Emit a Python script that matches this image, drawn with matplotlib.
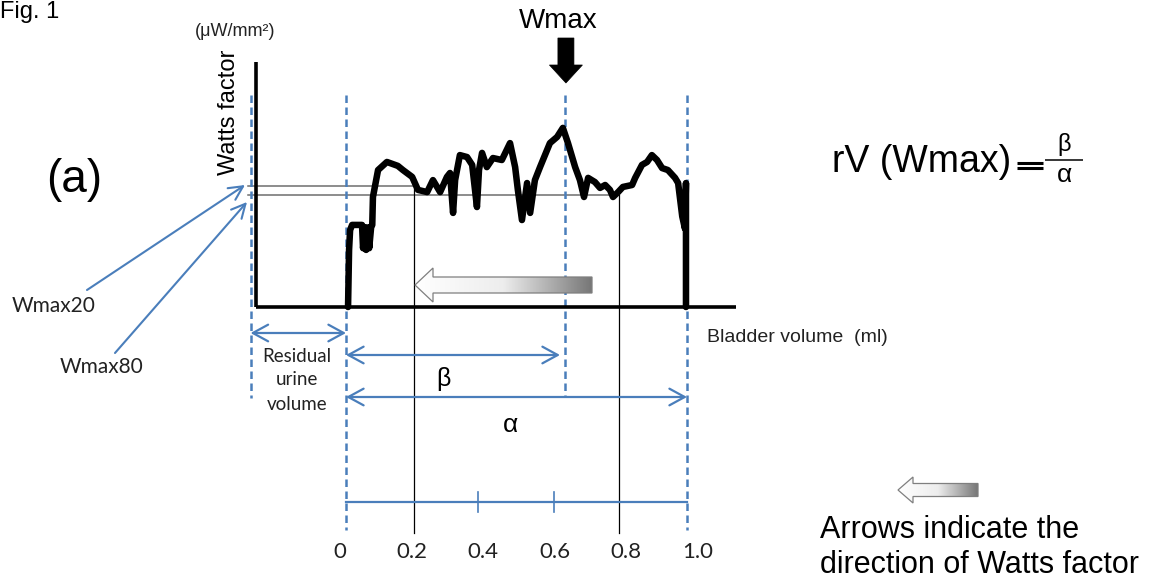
import numpy as np
import matplotlib
matplotlib.use("Agg")
import matplotlib.pyplot as plt
from matplotlib.patches import FancyArrowPatch, Polygon
from matplotlib.colors import LinearSegmentedColormap

# ---------------- data ----------------
# Watts factor curve (voided volume fraction vs Watts factor, arbitrary units)
volume = [0.006, 0.009, 0.012, 0.018, 0.047, 0.050, 0.056, 0.059, 0.065, 0.068, 0.074, 0.077,
          0.079, 0.094, 0.120, 0.152, 0.167, 0.194, 0.211, 0.238, 0.255, 0.276, 0.296, 0.305,
          0.314, 0.320, 0.334, 0.355, 0.370, 0.384, 0.390, 0.399, 0.413, 0.431, 0.457, 0.481,
          0.496, 0.504, 0.516, 0.531, 0.540, 0.554, 0.569, 0.598, 0.619, 0.636, 0.651, 0.672,
          0.686, 0.698, 0.710, 0.730, 0.745, 0.760, 0.774, 0.783, 0.798, 0.812, 0.839, 0.848,
          0.868, 0.883, 0.897, 0.912, 0.927, 0.944, 0.965, 0.974, 0.986, 0.994, 0.997, 0.997]
watts = [0.00, 2.33, 3.14, 3.35, 3.35, 2.40, 3.25, 2.33, 3.25, 2.40, 3.30, 3.35,
         4.49, 5.59, 5.92, 5.76, 5.59, 5.31, 4.78, 4.69, 5.18, 4.69, 5.31, 5.47,
         3.84, 5.18, 6.20, 6.12, 5.80, 4.08, 5.59, 6.29, 5.71, 6.08, 6.00, 6.69,
         5.71, 4.78, 3.55, 5.06, 3.84, 5.18, 5.71, 6.69, 6.94, 7.31, 6.69, 5.71,
         5.18, 4.49, 5.27, 5.10, 4.86, 4.98, 4.78, 4.49, 4.69, 4.90, 4.98, 5.27,
         5.80, 5.92, 6.20, 6.00, 5.67, 5.59, 5.27, 5.06, 3.70, 3.20, 5.06, 0.00]
wmax20 = 4.94          # Watts factor at 20 % of voided volume
wmax80 = 4.57          # Watts factor at 80 % of voided volume
wmax_volume = 0.642    # volume fraction at Wmax
residual = 0.28        # residual urine (in voided-volume units)
vol_ticks = [0, 0.2, 0.4, 0.6, 0.8, 1.0]
vol_tick_labels = ["0", "0.2", "0.4", "0.6", "0.8", "1.0"]
scale_ticks = [0.387, 0.61]
y_top = 10.0

# ---------------- layout ----------------
W, H = 1155, 578
X0, XS = 346.0, 341.0   # pixel of volume 0, pixels per volume unit
Y0, YS = 307.0, 24.5    # pixel of Watts 0, pixels per Watts unit

def vx(px):
    return (px - X0) / XS

def wy(py):
    return (Y0 - py) / YS

def P(px, py):
    return (vx(px), wy(py))

def px_of(v):
    return X0 + XS * v

BLUE = "#4A7EBB"
ARIAL = "Liberation Sans"
CALIBRI = "Lato"

fig = plt.figure(figsize=(W / 100, H / 100), dpi=100)
ax = fig.add_axes([0, 0, 1, 1])
XL = (vx(0), vx(W))
YL = (wy(H), wy(0))
ax.set_xlim(*XL)
ax.set_ylim(*YL)
ax.axis("off")

# axes (thick black)
ax.plot([vx(256), vx(256)], [0, y_top], color="black", lw=2.6, solid_capstyle="butt", zorder=6)
ax.plot([vx(256), vx(736)], [0, 0], color="black", lw=2.6, solid_capstyle="butt", zorder=6)

# gray reference lines for Wmax20 / Wmax80
ax.plot([vx(248), 0.2], [wmax20, wmax20], color="#6e6e6e", lw=1.1, zorder=3)
ax.plot([vx(248), 0.8], [wmax80, wmax80], color="#6e6e6e", lw=1.1, zorder=3)
# vertical thin black lines at 0.2 and 0.8
ax.plot([0.2, 0.2], [wmax20, wy(533)], color="black", lw=0.9, zorder=3)
ax.plot([0.8, 0.8], [wmax80, wy(533)], color="black", lw=0.9, zorder=3)

# blue dashed verticals
dash = dict(color=BLUE, lw=1.8, linestyle=(0, (3.0, 1.8)), zorder=4)
ax.plot([-residual, -residual], [wy(95), wy(398)], **dash)
ax.plot([0, 0], [wy(95), wy(530)], **dash)
ax.plot([wmax_volume, wmax_volume], [wy(95), wy(397)], **dash)
ax.plot([1.0, 1.0], [wy(95), wy(530)], **dash)

# the Watts factor curve
ax.plot(volume, watts, color="black", lw=4.7, solid_joinstyle="round",
        solid_capstyle="round", zorder=7)

# blue double arrows
def darrow(x1, x2, y, style="<->"):
    a = FancyArrowPatch((x1, y), (x2, y), arrowstyle=f"{style},head_length=11,head_width=6",
                        color=BLUE, lw=1.6, shrinkA=0, shrinkB=0, mutation_scale=1,
                        transform=ax.transData, zorder=5)
    ax.add_patch(a)

darrow(-residual, 0, wy(333))
darrow(0, vx(560), wy(355))
darrow(0, 1.0, wy(397))

# blue scale bar
ax.plot([0, 1.0], [wy(502), wy(502)], color=BLUE, lw=1.6, zorder=5)
for t in scale_ticks:
    ax.plot([t, t], [wy(492), wy(512)], color=BLUE, lw=1.2, zorder=5)

# blue pointers to Wmax20 / Wmax80
for (p0, p1) in [((87, 290), (245, 185)), ((115, 353), (247, 202))]:
    a = FancyArrowPatch(P(*p0), P(*p1), arrowstyle="->,head_length=10,head_width=5",
                        color=BLUE, lw=1.5, shrinkA=0, shrinkB=0, mutation_scale=1,
                        transform=ax.transData, zorder=5)
    ax.add_patch(a)

# Wmax block arrow
cx = px_of(wmax_volume) + 1
shaft, head = 8, 16.5
pts = [(cx - shaft, 38), (cx + shaft, 38), (cx + shaft, 65), (cx + head, 65), (cx, 83),
       (cx - head, 65), (cx - shaft, 65)]
ax.add_patch(Polygon([P(*p) for p in pts], closed=True, facecolor="black",
                     edgecolor="black", lw=0.5, zorder=6))

# gradient arrows
cmap = LinearSegmentedColormap.from_list("g", ["#ffffff", "#ededed", "#777777"])

def grad_arrow(tip, y, hb, end, bh, hh):
    pts = [(tip, y), (hb, y - hh), (hb, y - bh), (end, y - bh), (end, y + bh),
           (hb, y + bh), (hb, y + hh)]
    poly = Polygon([P(*p) for p in pts], closed=True, facecolor="none",
                   edgecolor="#7f7f7f", lw=0.9, zorder=6)
    ax.add_patch(poly)
    grad = np.linspace(0, 1, 256).reshape(1, -1)
    im = ax.imshow(grad, cmap=cmap, extent=[vx(tip), vx(end), wy(y + hh), wy(y - hh)],
                   aspect="auto", interpolation="bilinear", zorder=5)
    im.set_clip_path(poly)

grad_arrow(415, 285, 433, 592, 8, 17)
grad_arrow(898, 490, 913, 978, 6.5, 13)

ax.set_xlim(*XL)
ax.set_ylim(*YL)

# ---------------- texts ----------------
def T(px, py, s, **kw):
    ax.text(vx(px), wy(py), s, **kw)

T(0, 18, "Fig. 1", fontsize=17, family=ARIAL, ha="left", va="baseline")
T(235, 36, "(μW/mm²)", fontsize=13, family=ARIAL, ha="center", va="baseline", color="#222222")
T(229, 112, "Watts factor", fontsize=17, family=ARIAL, rotation=90, ha="center", va="center")
T(74, 180, "(a)", fontsize=33, family=ARIAL, ha="center", va="center")
T(558, 28, "Wmax", fontsize=20, family=ARIAL, ha="center", va="baseline")
T(12, 312, "Wmax20", fontsize=15, family=CALIBRI, ha="left", va="baseline", color="#222222")
T(60, 373, "Wmax80", fontsize=15, family=CALIBRI, ha="left", va="baseline", color="#222222")
for s, yy in [("Residual", 362), ("urine", 385), ("volume", 410)]:
    T(297, yy, s, fontsize=13.5, family=CALIBRI, ha="center", va="baseline", color="#222222")
T(707, 342, "Bladder volume  (ml)", fontsize=14, family=ARIAL, ha="left", va="baseline",
  color="#222222")
T(443, 386, "β", fontsize=18, family=ARIAL, ha="center", va="baseline")
T(510, 432, "α", fontsize=19, family=ARIAL, ha="center", va="baseline")

# formula
T(832, 172, "rV (Wmax)", fontsize=27, family=ARIAL, ha="left", va="baseline")
ax.plot([vx(1017), vx(1043)], [wy(162.5), wy(162.5)], color="black", lw=2.2, solid_capstyle="butt")
ax.plot([vx(1017), vx(1043)], [wy(167.5), wy(167.5)], color="black", lw=2.2, solid_capstyle="butt")
ax.plot([vx(1045), vx(1083)], [wy(160), wy(160)], color="black", lw=1.1, solid_capstyle="butt")
T(1064, 151, "β", fontsize=17, family=ARIAL, ha="center", va="baseline")
T(1064, 182, "α", fontsize=19, family=ARIAL, ha="center", va="baseline")

# volume tick labels
for v, lab in zip(vol_ticks, vol_tick_labels):
    ax.text(-0.018 + 1.05 * v, wy(558), lab, fontsize=16, family=CALIBRI, ha="center",
            va="baseline", color="#222222")

# legend note
T(820, 538, "Arrows indicate the", fontsize=22, family=ARIAL, ha="left", va="baseline")
T(820, 573, "direction of Watts factor", fontsize=22, family=ARIAL, ha="left", va="baseline")

fig.savefig("out.png", dpi=100)
